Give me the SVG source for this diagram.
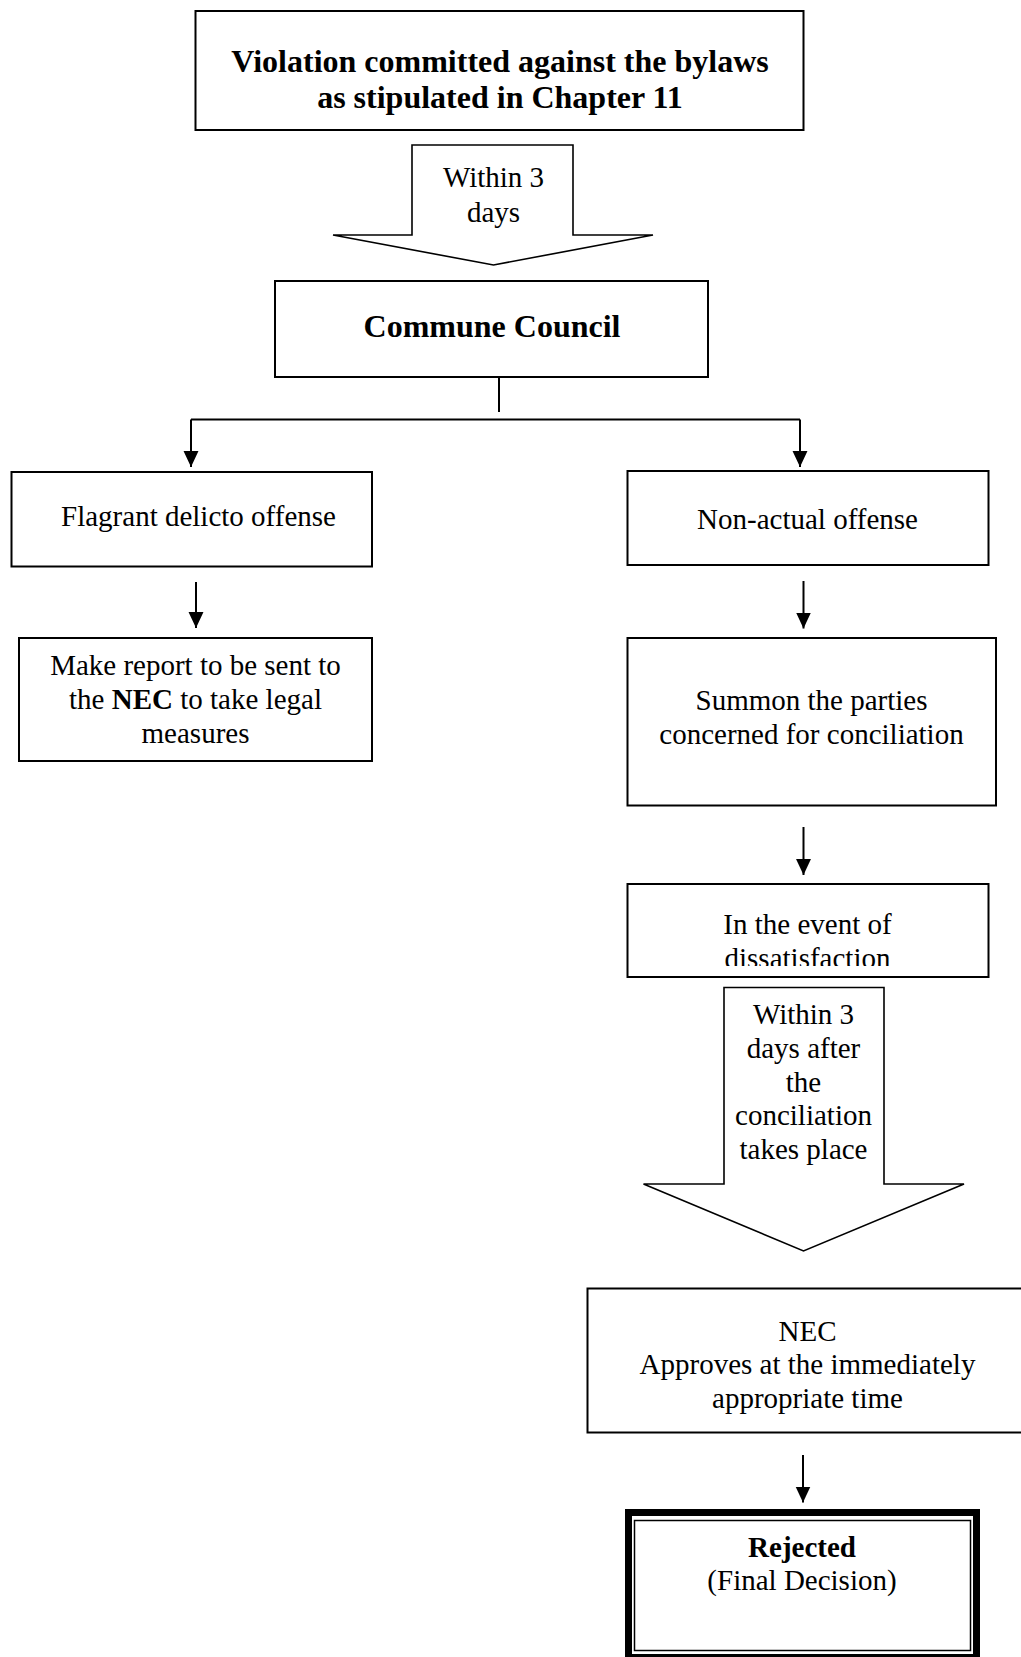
<svg xmlns="http://www.w3.org/2000/svg" width="1021" height="1657" viewBox="0 0 1021 1657">
  <defs>
    <marker id="tip" markerUnits="userSpaceOnUse" markerWidth="16" markerHeight="16" viewBox="0 0 15 14" refX="15" refY="7" orient="auto">
      <path d="M0 0 L15 7 L0 14 Z" fill="#000"/>
    </marker>
    <clipPath id="eventClip">
      <rect x="628" y="884" width="360" height="82"/>
    </clipPath>
  </defs>
  <style>
    .box { fill: #fff; stroke: #000; stroke-width: 2; }
    .block { fill: #fff; stroke: #000; stroke-width: 1.6; stroke-linejoin: miter; }
    .link { fill: none; stroke: #000; stroke-width: 2; }
    .arrow { fill: none; stroke: #000; stroke-width: 2; marker-end: url(#tip); }
    text { font-family: "Liberation Serif", "Times New Roman", serif; fill: #000; text-anchor: middle; }
    .t { font-size: 29px; }
    .tb { font-size: 32px; font-weight: bold; }
    .b { font-weight: bold; }
  </style>

  <rect width="1021" height="1657" fill="#fff"/>

  <!-- connectors -->
  <g id="connectors">
    <path class="link" d="M499 377 V412"/>
    <path class="link" d="M191 419.5 H800"/>
    <path class="arrow" d="M191 419.5 V467"/>
    <path class="arrow" d="M800 419.5 V467"/>
    <path class="arrow" d="M196 582 V628"/>
    <path class="arrow" d="M803.5 581 V628.5"/>
    <path class="arrow" d="M803.5 827 V875"/>
    <path class="arrow" d="M803 1455 V1502.5"/>
  </g>

  <g id="violation">
    <rect class="box" x="195.5" y="11" width="608" height="119"/>
    <text class="tb" x="500" y="71.5">Violation committed against the bylaws</text>
    <text class="tb" x="500" y="107.5">as stipulated in Chapter 11</text>
  </g>

  <g id="within-3-days">
    <polygon class="block" points="412,145 573,145 573,235 653,235 493.5,265 333,235 412,235"/>
    <text class="t" x="493.5" y="187">Within 3</text>
    <text class="t" x="493.5" y="222">days</text>
  </g>

  <g id="commune-council">
    <rect class="box" x="275" y="281" width="433" height="96"/>
    <text class="tb" x="492" y="336.5">Commune Council</text>
  </g>

  <g id="flagrant">
    <rect class="box" x="11.5" y="472" width="360.5" height="94.5"/>
    <text class="t" x="198.5" y="526">Flagrant delicto offense</text>
  </g>

  <g id="make-report">
    <rect class="box" x="19" y="638" width="353" height="123"/>
    <text class="t" x="195.5" y="675">Make report to be sent to</text>
    <text class="t" x="195.5" y="709">the <tspan class="b">NEC</tspan> to take legal</text>
    <text class="t" x="195.5" y="743">measures</text>
  </g>

  <g id="non-actual">
    <rect class="box" x="627.5" y="471" width="361" height="94"/>
    <text class="t" x="807.5" y="529">Non-actual offense</text>
  </g>

  <g id="summon">
    <rect class="box" x="627.5" y="638" width="368.5" height="167.5"/>
    <text class="t" x="811.5" y="710">Summon the parties</text>
    <text class="t" x="811.5" y="743.5">concerned for conciliation</text>
  </g>

  <g id="dissatisfaction">
    <rect class="box" x="627.5" y="884" width="361" height="93"/>
    <g clip-path="url(#eventClip)">
      <text class="t" x="807.5" y="934">In the event of</text>
      <text class="t" x="807.5" y="967.5">dissatisfaction</text>
    </g>
  </g>

  <g id="within-3-days-after">
    <polygon class="block" points="724,987.5 884,987.5 884,1184 964,1184 803.5,1251 643.5,1184 724,1184"/>
    <text class="t" x="803.5" y="1024">Within 3</text>
    <text class="t" x="803.5" y="1058">days after</text>
    <text class="t" x="803.5" y="1091.5">the</text>
    <text class="t" x="803.5" y="1125">conciliation</text>
    <text class="t" x="803.5" y="1158.5">takes place</text>
  </g>

  <g id="nec">
    <rect class="box" x="587.5" y="1288.5" width="450" height="144"/>
    <text class="t" x="807.5" y="1340.5">NEC</text>
    <text class="t" x="807.5" y="1374">Approves at the immediately</text>
    <text class="t" x="807.5" y="1407.5">appropriate time</text>
  </g>

  <g id="rejected">
    <rect x="628.5" y="1512.5" width="348" height="145" fill="#fff" stroke="#000" stroke-width="7"/>
    <rect x="634.5" y="1520.5" width="336" height="130" fill="none" stroke="#000" stroke-width="1.5"/>
    <text class="t b" x="802" y="1556.5">Rejected</text>
    <text class="t" x="802" y="1589.5">(Final Decision)</text>
  </g>
</svg>
